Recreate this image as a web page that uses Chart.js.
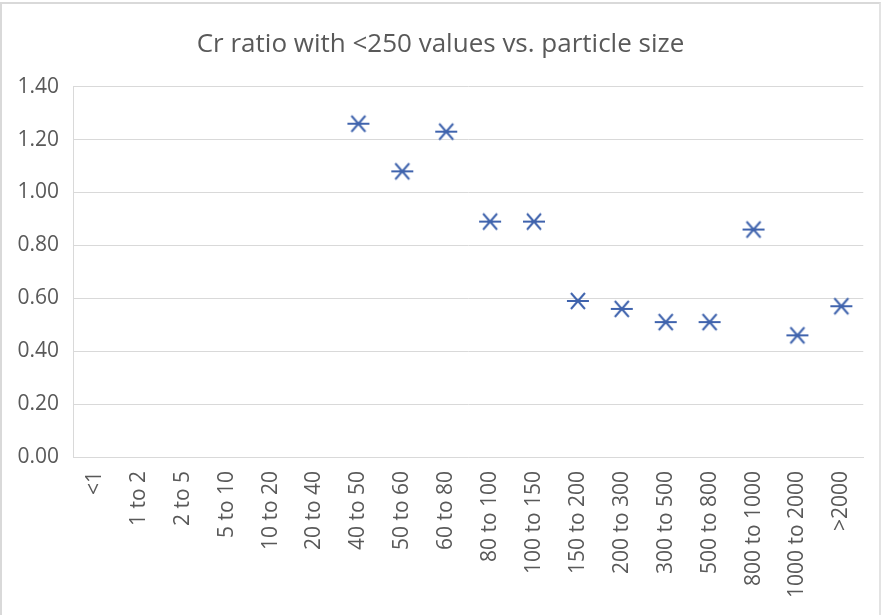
<!DOCTYPE html>
<html>
<head>
<meta charset="utf-8">
<title>Cr ratio vs. particle size</title>
<script src="https://cdn.jsdelivr.net/npm/chart.js@4.4.1/dist/chart.umd.min.js"></script>
<style>
  html, body { margin: 0; padding: 0; background: #fff; }
  .frame {
    position: relative;
    width: 881px;
    height: 615px;
    box-sizing: border-box;
    border-top: 2px solid #d9d9d9;
    border-left: 2px solid #d9d9d9;
    border-right: 2px solid #e3e3e3;
    margin-top: 2px;
  }
  canvas { position: absolute; left: -2px; top: -4px; }
</style>
</head>
<body>
<div class="frame">
  <canvas id="chart" width="881" height="615"></canvas>
</div>
<script>
const sizeBins = ['<1', '1 to 2', '2 to 5', '5 to 10', '10 to 20', '20 to 40', '40 to 50', '50 to 60',
  '60 to 80', '80 to 100', '100 to 150', '150 to 200', '200 to 300', '300 to 500', '500 to 800',
  '800 to 1000', '1000 to 2000', '>2000'];
const crRatio = [null, null, null, null, null, null, 1.26, 1.08, 1.23, 0.89, 0.89, 0.59, 0.56,
  0.51, 0.51, 0.86, 0.46, 0.57];
const yTicks = [0, 0.2, 0.4, 0.6, 0.8, 1.0, 1.2, 1.4];

const markerColor = '#3f63ad';
const textColor = '#595959';
const gridColor = '#d9d9d9';

// asterisk marker: one horizontal stroke plus an X
function makeMarker() {
  const c = document.createElement('canvas');
  c.width = 24;
  c.height = 20;
  const g = c.getContext('2d');
  g.strokeStyle = markerColor;
  g.lineWidth = 2;
  g.beginPath();
  g.moveTo(1, 10); g.lineTo(23, 10);
  g.moveTo(5, 2); g.lineTo(19, 18);
  g.moveTo(5, 18); g.lineTo(19, 2);
  g.stroke();
  return c;
}

const marker = makeMarker();
const font = 'Open Sans';

new Chart(document.getElementById('chart'), {
  type: 'line',
  data: {
    labels: sizeBins,
    datasets: [{
      label: 'Cr ratio',
      data: crRatio,
      showLine: false,
      pointStyle: marker,
      pointRadius: 10,
      borderColor: markerColor,
      backgroundColor: markerColor
    }]
  },
  options: {
    responsive: false,
    animation: false,
    layout: { padding: { left: 0, right: 0, top: 0, bottom: 6 } },
    plugins: {
      legend: { display: false },
      tooltip: { enabled: false },
      title: {
        display: true,
        text: 'Cr ratio with <250 values vs. particle size',
        color: textColor,
        font: { family: font, size: 26, weight: 'normal' },
        padding: { top: 29, bottom: 26.5 }
      }
    },
    scales: {
      x: {
        offset: true,
        grid: { display: false, drawTicks: false },
        border: { color: gridColor, width: 1 },
        ticks: {
          color: textColor,
          font: { family: font, size: 21 },
          minRotation: 90,
          maxRotation: 90,
          autoSkip: false,
          padding: 14
        },
        afterFit: (scale) => { scale.height = 152; }
      },
      y: {
        min: 0,
        max: 1.4,
        afterBuildTicks: (scale) => { scale.ticks = yTicks.map(v => ({ value: v })); },
        grid: { color: gridColor, drawTicks: false },
        border: { color: gridColor, width: 1 },
        ticks: {
          color: textColor,
          font: { family: font, size: 21 },
          padding: 14,
          callback: (v) => v.toFixed(2)
        },
        afterFit: (scale) => { scale.width = 73; }
      },
      // empty right-hand gutter so the title stays centred on the whole canvas
      gutter: {
        position: 'right',
        min: 0,
        max: 1.4,
        grid: { display: false, drawTicks: false },
        border: { display: false },
        ticks: { display: false },
        afterFit: (scale) => { scale.width = 17; }
      }
    }
  }
});
</script>
</body>
</html>
